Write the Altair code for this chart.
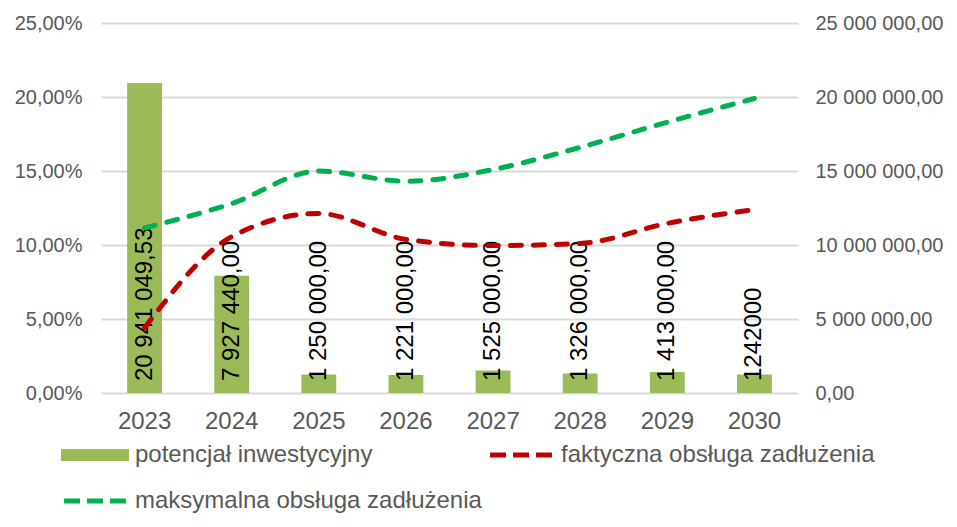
import altair as alt
import pandas as pd

years = ["2023", "2024", "2025", "2026", "2027", "2028", "2029", "2030"]
potencjal = [20941049.53, 7927440.00, 1250000.00, 1221000.00, 1525000.00, 1326000.00, 1413000.00, 1242000.00]
potencjal_labels = ["20 941 049,53", "7 927 440,00", "1 250 000,00", "1 221 000,00",
                    "1 525 000,00", "1 326 000,00", "1 413 000,00", "1242000"]
faktyczna = [4.40, 10.56, 12.13, 10.38, 9.96, 10.10, 11.46, 12.40]   # %
maksymalna = [11.15, 12.80, 15.00, 14.30, 15.10, 16.60, 18.30, 19.90]  # %

S_POT = "potencjał inwestycyjny"
S_FAK = "faktyczna obsługa zadłużenia"
S_MAK = "maksymalna obsługa zadłużenia"
series = [S_POT, S_FAK, S_MAK]
series_colors = ["#9BBB59", "#C00000", "#00B050"]

bar_df = pd.DataFrame({"rok": years, "wartosc": potencjal, "etykieta": potencjal_labels,
                       "seria": [S_POT] * len(years)})
line_df = pd.DataFrame({
    "rok": years + years,
    "procent": [v / 100 for v in faktyczna] + [v / 100 for v in maksymalna],
    "seria": [S_FAK] * len(years) + [S_MAK] * len(years),
})

GRAY = "#595959"
FONT = "Liberation Sans"

# legend symbol shapes (unit box -1..1): a flat bar block, and three short dashes
BAR_SYMBOL = "M-1,-0.18H1V0.18H-1Z"
def _dash(x0, x1, r=0.074):
    return f"M{x0:.3f},{-r:.3f}H{x1:.3f}V{r:.3f}H{x0:.3f}Z"
DASH_SYMBOL = _dash(-0.91, -0.44) + _dash(-0.235, 0.235) + _dash(0.44, 0.91)

x_enc = alt.X("rok:N", sort=years,
              scale=alt.Scale(paddingInner=0.6, paddingOuter=0.3),
              axis=alt.Axis(title=None, labelAngle=0, labelFontSize=24, labelColor=GRAY,
                            labelPadding=16, ticks=False, domain=False, labelFont=FONT))

right_axis = alt.Axis(orient="right", values=[0, 5e6, 10e6, 15e6, 20e6, 25e6], format=",.2f",
                      title=None, grid=False, ticks=False, domain=False, labelFontSize=20,
                      labelColor=GRAY, labelPadding=17, labelFont=FONT)
right_scale = alt.Scale(domain=[0, 25e6], nice=False)

legend = alt.Legend(
    title=None, orient="none", legendX=-40, legendY=398, direction="horizontal",
    columns=2, columnPadding=5, rowPadding=-33, labelFontSize=24, labelColor=GRAY,
    labelFont=FONT, labelOffset=6, labelLimit=600, symbolSize=4624, symbolStrokeWidth=0,
    symbolOpacity=1, padding=0,
)

shared_fill = alt.Fill("seria:N", scale=alt.Scale(domain=series, range=series_colors), legend=legend)
shared_shape = alt.Shape("seria:N", scale=alt.Scale(domain=series, range=[BAR_SYMBOL, DASH_SYMBOL, DASH_SYMBOL]),
                         legend=legend)

bars = alt.Chart(bar_df).mark_bar().encode(
    x=x_enc,
    y=alt.Y("wartosc:Q", scale=right_scale, axis=right_axis),
    fill=shared_fill,
)

labels = alt.Chart(bar_df).transform_calculate(zero="0").mark_text(
    angle=270, align="left", baseline="middle", dx=12, fontSize=24, color="black", font=FONT
).encode(
    x=x_enc,
    y=alt.Y("zero:Q", scale=right_scale, axis=right_axis),
    text="etykieta:N",
)

lines = alt.Chart(line_df).mark_line(
    strokeWidth=5, strokeDash=[11, 12], strokeCap="round", interpolate="monotone"
).encode(
    x=x_enc,
    y=alt.Y("procent:Q", scale=alt.Scale(domain=[0, 0.25], nice=False),
            axis=alt.Axis(orient="left", values=[0, 0.05, 0.10, 0.15, 0.20, 0.25], format=".2%",
                          title=None, grid=True, gridColor="#D9D9D9", gridWidth=2, ticks=False,
                          domain=False, labelFontSize=20, labelColor=GRAY, labelPadding=19,
                          labelFont=FONT)),
    stroke=alt.Stroke("seria:N", scale=alt.Scale(domain=series, range=series_colors), legend=None),
)

# invisible point layer at the line vertices carries the shape channel for the legend
legend_points = alt.Chart(line_df).mark_point(filled=True, size=0).encode(
    x=x_enc,
    y=alt.Y("procent:Q", scale=alt.Scale(domain=[0, 0.25], nice=False)),
    fill=shared_fill,
    shape=shared_shape,
)

chart = alt.layer(alt.layer(bars, labels), alt.layer(lines, legend_points)).resolve_scale(y="independent").properties(
    width=697, height=370,
    padding={"left": 93, "top": 15, "right": 151, "bottom": 126},
    autosize=alt.AutoSizeParams(type="none"),
).configure(
    font=FONT,
    locale={"number": {"decimal": ",", "thousands": " ", "grouping": [3], "currency": ["", ""]}},
).configure_view(stroke=None)

chart.save("out.html", embed_options={"renderer": "svg", "actions": False})
